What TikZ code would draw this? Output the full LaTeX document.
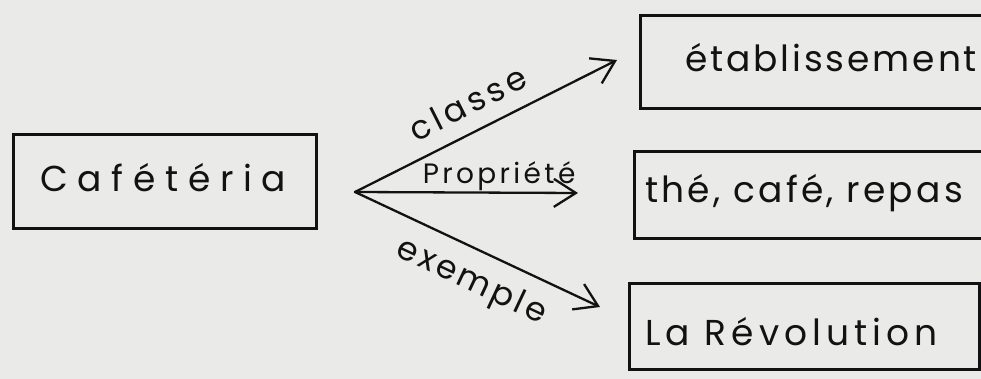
\documentclass[tikz,border=0pt]{standalone}
\usepackage{fontspec}
\newfontfamily\hand{Poppins}
\usetikzlibrary{arrows.meta}
\definecolor{paper}{RGB}{234,234,232}
\definecolor{ink}{RGB}{18,18,18}

% text in the hand-lettered look: size, extra letter spacing
\newcommand{\lettering}[2]{\hand\fontsize{#1}{#1}\selectfont\addfontfeature{LetterSpace=#2}}

\begin{document}
\begin{tikzpicture}[x=1pt, y=-1pt,
  box/.style={draw=ink, line width=2.6pt, inner sep=0pt, anchor=north west},
  word/.style={anchor=base west, inner sep=0pt, text=ink},
  link/.style={draw=ink, line width=2.3pt, line cap=round,
    -{Straight Barb[length=22pt, width=28pt, line width=2.3pt]}},
  tag/.style={text=ink, inner sep=0pt}]

\fill[paper] (0,0) rectangle (981,379);
\useasboundingbox (0,0) rectangle (981,379);

% boxes (the two upper ones on the right run on past the edge)
\node[box, minimum width=303pt, minimum height=94pt] (cafbox) at (12,133) {};
\node[box, minimum width=500pt, minimum height=93pt] (classbox) at (639,14) {};
\node[box, minimum width=500pt, minimum height=87pt] (propbox) at (633,150) {};
\node[box, minimum width=350pt, minimum height=86pt] (exbox) at (628,282) {};

% box texts
\node[word, font=\lettering{36}{27}] (caf) at (40,192) {Cafétéria};
\node[word, font=\lettering{36}{8}] (etab) at (685,72) {établissement};
\node[word, font=\lettering{36}{9}] (the) at (645,203) {thé, café, repas};
\node[word, font=\lettering{36}{14}] (rev) at (645,345) {La Révolution};

% the three relations leaving one point
\coordinate (o) at (355,192);
\coordinate (t1) at (617,60);
\coordinate (t2) at (578,193);
\coordinate (t3) at (600,307);

\draw[link] (o) -- (t1)
  node[tag, pos=0.48, sloped, above=15pt, font=\lettering{33}{13}] (lclasse) {classe};
\draw[link] (o) -- (t2)
  node[tag, pos=0.646, anchor=base, yshift=9pt, font=\lettering{28}{12}] (lprop) {Propriété};
\draw[link] (o) -- (t3)
  node[tag, pos=0.53, sloped, below=15pt, font=\lettering{33}{10}] (lex) {exemple};
\end{tikzpicture}
\end{document}
